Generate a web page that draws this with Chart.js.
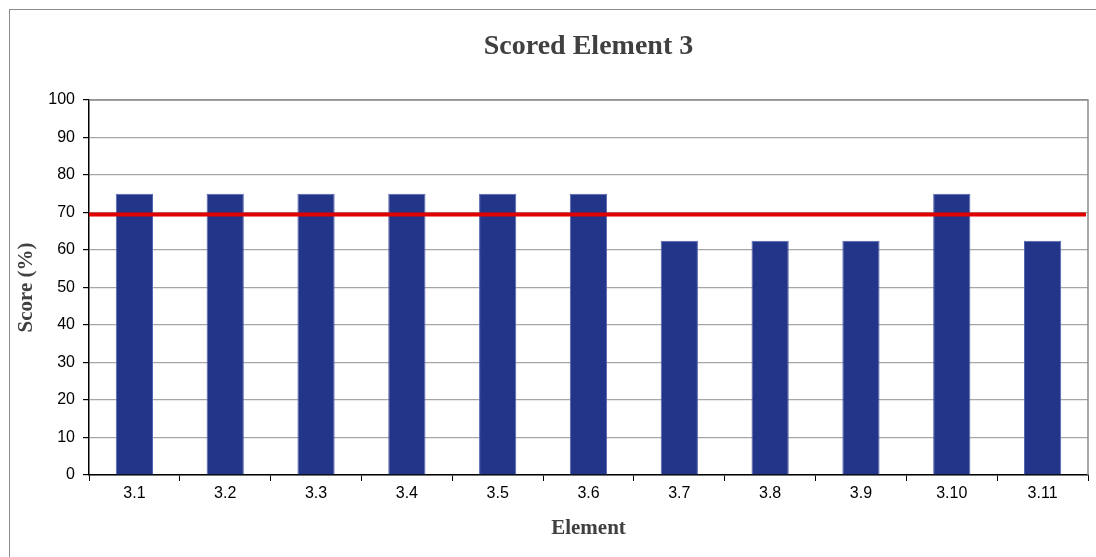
<!DOCTYPE html>
<html>
<head>
<meta charset="utf-8">
<script src="https://cdn.jsdelivr.net/npm/chart.js@4/dist/chart.umd.min.js"></script>
<style>
  html, body { margin: 0; padding: 0; background: #fff; }
  #wrap { position: relative; width: 1096px; height: 557px; }
  #frame { position: absolute; left: 9px; top: 9px; right: -2px; bottom: -2px; border-left: 1px solid #8c8c8c; border-top: 1px solid #8c8c8c; }
  canvas { position: absolute; left: 0; top: 0; }
</style>
</head>
<body>
<div id="wrap">
  <div id="frame"></div>
  <canvas id="c" width="1096" height="557"></canvas>
</div>
<script>
const categories = ['3.1','3.2','3.3','3.4','3.5','3.6','3.7','3.8','3.9','3.10','3.11'];
const scores = [75, 75, 75, 75, 75, 75, 62.5, 62.5, 62.5, 75, 62.5];
const threshold = [69.5];
const yTicks = [0,10,20,30,40,50,60,70,80,90,100];

const serif = "'Liberation Serif', 'DejaVu Serif', serif";
const sans = "'Liberation Sans', Arial, sans-serif";

const framePlugin = {
  id: 'plotFrame',
  beforeDatasetsDraw(chart) {
    const {ctx, chartArea: a} = chart;
    ctx.save();
    ctx.strokeStyle = '#8c8c8c';
    ctx.lineWidth = 1.5;
    ctx.beginPath();
    ctx.moveTo(a.left, a.top);
    ctx.lineTo(a.right, a.top);
    ctx.lineTo(a.right, a.bottom);
    ctx.stroke();
    ctx.restore();
  },
  afterDatasetsDraw(chart) {
    const {ctx, chartArea: a, scales} = chart;
    ctx.save();
    ctx.strokeStyle = '#e00000';
    ctx.lineWidth = 4;
    threshold.forEach(v => {
      const y = scales.y.getPixelForValue(v);
      ctx.beginPath();
      ctx.moveTo(a.left, y);
      ctx.lineTo(a.right - 2, y);
      ctx.stroke();
    });
    ctx.restore();
  }
};

new Chart(document.getElementById('c'), {
  type: 'bar',
  data: {
    labels: categories,
    datasets: [{
      data: scores,
      backgroundColor: '#233588',
      borderColor: '#5566b0',
      borderWidth: 1,
      barPercentage: 0.41,
      categoryPercentage: 1.0
    }]
  },
  options: {
    responsive: false,
    animation: false,
    layout: { padding: { left: 0, right: 8, top: 0, bottom: 0 } },
    plugins: {
      legend: { display: false },
      tooltip: { enabled: false },
      title: {
        display: true,
        fullSize: false,
        text: 'Scored Element 3',
        color: '#404040',
        font: { family: serif, size: 28, weight: 'bold', lineHeight: 1.2 },
        padding: { top: 30, bottom: 36.4 }
      }
    },
    scales: {
      x: {
        offset: true,
        grid: { display: true, offset: true, drawOnChartArea: false, color: '#000', tickLength: 6, tickWidth: 1 },
        border: { display: true, color: '#000', width: 1.5 },
        ticks: { color: '#000', font: { family: sans, size: 16 }, padding: 3, maxRotation: 0, autoSkip: false },
        title: { display: true, text: 'Element', color: '#404040', font: { family: serif, size: 21, weight: 'bold', lineHeight: 1.2 }, padding: { top: 4, bottom: 16 } },
        afterFit(scale) { scale.height = 82; }
      },
      y: {
        min: 0, max: 100,
        afterBuildTicks(scale) { scale.ticks = yTicks.map(v => ({ value: v })); },
        grid: { color: '#a6a6a6', lineWidth: 1.2, tickLength: 6, tickColor: '#000', drawTicks: true },
        border: { display: true, color: '#000', width: 1.5 },
        ticks: { color: '#000', font: { family: sans, size: 16 }, padding: 8 },
        title: { display: true, text: 'Score (%)', color: '#404040', font: { family: serif, size: 21, weight: 'bold', lineHeight: 1.2 }, padding: { top: 14, bottom: 0 } },
        afterFit(scale) { scale.width = 89; }
      }
    }
  },
  plugins: [framePlugin]
});
</script>
</body>
</html>
